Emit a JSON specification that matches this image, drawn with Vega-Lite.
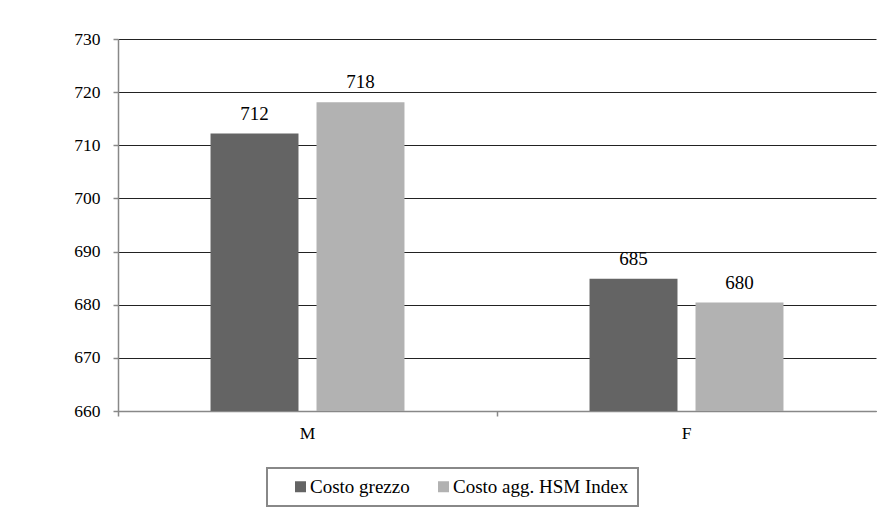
{
  "$schema": "https://vega.github.io/schema/vega-lite/v6.json",
  "width": 758,
  "height": 372,
  "autosize": {"type": "none"},
  "padding": {"left": 118, "top": 39, "right": 13, "bottom": 102},
  "background": "white",
  "config": {
    "font": "Liberation Serif",
    "view": {"stroke": null},
    "axis": {"labelFont": "Liberation Serif", "labelColor": "black", "domainColor": "#888888", "tickColor": "#888888", "domainWidth": 1.5, "tickWidth": 1.5}
  },
  "data": {
    "values": [
      {"Sesso": "M", "Serie": "Costo grezzo", "Valore": 712.2},
      {"Sesso": "M", "Serie": "Costo agg. HSM Index", "Valore": 718.1},
      {"Sesso": "F", "Serie": "Costo grezzo", "Valore": 684.9},
      {"Sesso": "F", "Serie": "Costo agg. HSM Index", "Valore": 680.4}
    ]
  },
  "encoding": {
    "x": {
      "field": "Sesso",
      "type": "nominal",
      "sort": ["M", "F"],
      "scale": {"paddingInner": 0, "paddingOuter": 0},
      "axis": {"title": null, "labelAngle": 0, "labelFont": "Liberation Serif", "labelFontSize": 17.5, "tickSize": 5, "labelPadding": 8, "bandPosition": 0, "grid": false}
    },
    "xOffset": {
      "field": "Serie",
      "type": "nominal",
      "sort": ["Costo grezzo", "Costo agg. HSM Index"],
      "scale": {"paddingInner": 0.17, "paddingOuter": 0.873}
    },
    "y": {
      "field": "Valore",
      "type": "quantitative",
      "scale": {"domain": [660, 730], "zero": false, "nice": false},
      "axis": {"title": null, "values": [660, 670, 680, 690, 700, 710, 720, 730], "labelFont": "Liberation Serif", "labelFontSize": 17.5, "tickSize": 5, "labelPadding": 13, "grid": true, "gridColor": "#222222", "gridWidth": 1, "gridOpacity": 1}
    }
  },
  "layer": [
    {
      "mark": {"type": "bar", "clip": true},
      "encoding": {
        "color": {
          "field": "Serie",
          "type": "nominal",
          "sort": ["Costo grezzo", "Costo agg. HSM Index"],
          "scale": {"domain": ["Costo grezzo", "Costo agg. HSM Index"], "range": ["#646464", "#b2b2b2"]},
          "legend": {
            "title": null,
            "orient": "none",
            "legendX": 149,
            "legendY": 429,
            "direction": "horizontal",
            "symbolType": "square",
            "symbolSize": 121,
            "symbolStrokeWidth": 0,
            "symbolOffset": 15,
            "labelOffset": 0,
            "labelFont": "Liberation Serif",
            "labelFontSize": 19,
            "labelColor": "black",
            "padding": 9,
            "columnPadding": 9,
            "strokeColor": "#888888",
            "fillColor": "white",
            "labelLimit": 400,
            "encode": {"legend": {"update": {"strokeWidth": {"value": 2}}}}
          }
        }
      }
    },
    {
      "mark": {"type": "text", "baseline": "alphabetic", "dy": -14, "fontSize": 19, "font": "Liberation Serif", "color": "black"},
      "encoding": {
        "text": {"field": "Valore", "type": "quantitative", "format": ".0f"}
      }
    }
  ]
}
